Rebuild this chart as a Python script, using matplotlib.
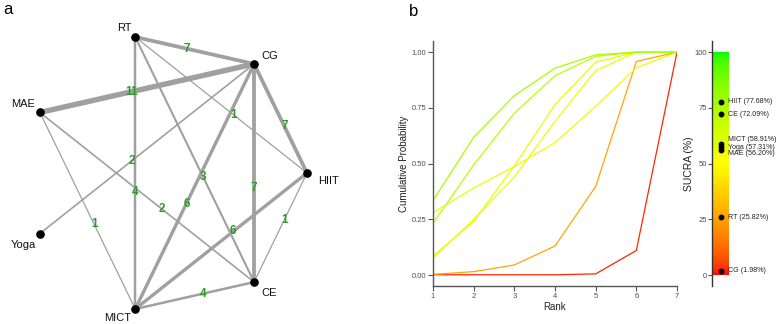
import numpy as np
import matplotlib
matplotlib.use("Agg")
import matplotlib.pyplot as plt
from matplotlib.colors import ListedColormap

plt.rcParams['font.family'] = ['Liberation Sans', 'DejaVu Sans']

# ---------------- data ----------------
nodes = ["HIIT", "CG", "RT", "MAE", "Yoga", "MICT", "CE"]   # order around circle
edges_from = ["CG", "CG", "CG", "RT", "MAE", "MAE", "RT", "CG", "RT", "MICT", "CE", "MICT", "CG", "CG"]
edges_to   = ["RT", "MAE", "Yoga", "MICT", "CE", "MICT", "CE", "MICT", "HIIT", "HIIT", "HIIT", "CE", "CE", "HIIT"]
edges_n    = [7, 11, 2, 4, 2, 1, 3, 6, 1, 6, 1, 4, 7, 7]

ranks = [1, 2, 3, 4, 5, 6, 7]
treatments = ["HIIT", "CE", "MICT", "Yoga", "MAE", "RT", "CG"]
sucra = [77.68, 72.09, 58.91, 57.31, 56.20, 25.82, 1.98]
cum_prob = {
    "HIIT": [0.334, 0.618, 0.805, 0.928, 0.988, 1.000, 1.0],
    "CE":   [0.232, 0.494, 0.726, 0.894, 0.981, 1.000, 1.0],
    "MICT": [0.085, 0.240, 0.490, 0.765, 0.955, 1.000, 1.0],
    "Yoga": [0.280, 0.390, 0.487, 0.594, 0.757, 0.930, 1.0],
    "MAE":  [0.075, 0.250, 0.440, 0.690, 0.917, 1.000, 1.0],
    "RT":   [0.003, 0.015, 0.045, 0.130, 0.397, 0.958, 1.0],
    "CG":   [0.001, 0.001, 0.001, 0.001, 0.005, 0.110, 1.0],
}


# ---------------- Lab colour gradient (red - yellow - green) ----------------
def srgb_to_lab(rgb):
    rgb = np.asarray(rgb, float)
    lin = np.where(rgb <= 0.04045, rgb / 12.92, ((rgb + 0.055) / 1.055) ** 2.4)
    M = np.array([[0.4124, 0.3576, 0.1805], [0.2126, 0.7152, 0.0722], [0.0193, 0.1192, 0.9505]])
    xyz = lin @ M.T / np.array([0.95047, 1.0, 1.08883])
    f = np.where(xyz > 0.008856, np.cbrt(xyz), 7.787 * xyz + 16 / 116)
    return np.stack([116 * f[..., 1] - 16, 500 * (f[..., 0] - f[..., 1]), 200 * (f[..., 1] - f[..., 2])], -1)


def lab_to_srgb(lab):
    lab = np.asarray(lab, float)
    fy = (lab[..., 0] + 16) / 116
    fx = fy + lab[..., 1] / 500
    fz = fy - lab[..., 2] / 200
    f = np.stack([fx, fy, fz], -1)
    xyz = np.where(f ** 3 > 0.008856, f ** 3, (f - 16 / 116) / 7.787) * np.array([0.95047, 1.0, 1.08883])
    Minv = np.linalg.inv(np.array([[0.4124, 0.3576, 0.1805], [0.2126, 0.7152, 0.0722], [0.0193, 0.1192, 0.9505]]))
    lin = np.clip(xyz @ Minv.T, 0, 1)
    return np.clip(np.where(lin <= 0.0031308, 12.92 * lin, 1.055 * lin ** (1 / 2.4) - 0.055), 0, 1)


stops = srgb_to_lab(np.array([[1, 0, 0], [1, 1, 0], [0, 1, 0]]))
tt = np.linspace(0, 1, 256)
seg = np.minimum((tt * 2).astype(int), 1)
fr = tt * 2 - seg
labs = stops[seg] * (1 - fr[:, None]) + stops[seg + 1] * fr[:, None]
cmap = ListedColormap(lab_to_srgb(labs))

# ---------------- figure ----------------
W, H = 777, 324
fig = plt.figure(figsize=(W / 100, H / 100), dpi=100)

# ---- panel a: network ----
axa = fig.add_axes([0, 0, 400 / W, 1])
axa.set_xlim(0, 400)
axa.set_ylim(H, 0)
axa.axis("off")

cx, cy, rx, ry = 166.5, 173.0, 140.5, 139.5
pos = {}
for i, nm in enumerate(nodes):
    ang = 2 * np.pi * i / len(nodes)
    pos[nm] = (cx + rx * np.cos(ang), cy - ry * np.sin(ang))

for a, b, n in zip(edges_from, edges_to, edges_n):
    (x1, y1), (x2, y2) = pos[a], pos[b]
    axa.plot([x1, x2], [y1, y2], color="#A0A0A0", lw=0.6 + 0.3 * n,
             solid_capstyle="butt", zorder=1)
for a, b, n in zip(edges_from, edges_to, edges_n):
    (x1, y1), (x2, y2) = pos[a], pos[b]
    f = 0.57
    axa.text(x1 + f * (x2 - x1), y1 + f * (y2 - y1), str(n), color="#2F9A2A",
             fontsize=8.5, fontweight="bold", ha="center", va="center", zorder=3)

for nm in nodes:
    axa.plot(*pos[nm], "o", color="black", ms=5.2, zorder=4)

lab_off = {"HIIT": (11, 8, "left"), "CG": (7, -8, "left"), "RT": (-11, -9, "center"),
           "MAE": (-17, -8, "center"), "Yoga": (-17, 11, "center"),
           "MICT": (-18, 9, "center"), "CE": (7, 11, "left")}
for nm in nodes:
    dx, dy, ha = lab_off[nm]
    axa.text(pos[nm][0] + dx, pos[nm][1] + dy, nm, fontsize=8, ha=ha, va="center",
             color="#111111")

fig.text(3 / W, 1 - 10 / H, "a", fontsize=12, ha="left", va="center")
fig.text(409 / W, 1 - 11 / H, "b", fontsize=12, ha="left", va="center")

# ---- panel b: cumulative ranking ----
left, right, top, bottom = 433, 677, 41, 285.7
axb = fig.add_axes([left / W, 1 - bottom / H, (right - left) / W, (bottom - top) / H])
for t, s in zip(treatments[::-1], sucra[::-1]):
    axb.plot(ranks, cum_prob[t], color=cmap(s / 100), lw=0.9)
axb.set_xlim(1, 7)
axb.set_ylim(-0.048, 1.05)
axb.set_xticks(ranks)
axb.set_yticks([0, 0.25, 0.5, 0.75, 1.0])
axb.set_yticklabels(["0.00", "0.25", "0.50", "0.75", "1.00"])
for sp in ["top", "right"]:
    axb.spines[sp].set_visible(False)
for sp in ["left", "bottom"]:
    axb.spines[sp].set_color("#555555")
    axb.spines[sp].set_linewidth(1.0)
axb.tick_params(colors="#555555", labelcolor="#4D4D4D", labelsize=5.5, length=3.5, width=0.8, pad=1.5)
axb.set_xlabel("Rank", fontsize=7, color="#222222", labelpad=2)
axb.set_ylabel("Cumulative Probability", fontsize=7, color="#222222", labelpad=2)

# ---- SUCRA bar ----
sl, sr = 711.7, 728.3
axs = fig.add_axes([sl / W, 1 - bottom / H, (sr - sl) / W, (bottom - top) / H])
grad = np.linspace(0, 1, 256).reshape(-1, 1)
axs.imshow(grad, cmap=cmap, origin="lower", extent=[0, 1, 0, 100], aspect="auto")
axs.set_xlim(0, 1)
axs.set_ylim(-4.8, 105)
axs.set_xticks([])
axs.set_yticks([0, 25, 50, 75, 100])
for sp in ["top", "right", "bottom"]:
    axs.spines[sp].set_visible(False)
axs.spines["left"].set_color("#333333")
axs.spines["left"].set_linewidth(1.0)
axs.tick_params(colors="#555555", labelcolor="#4D4D4D", labelsize=5.5, length=3, width=0.8, pad=0.5)
axs.set_ylabel("SUCRA (%)", fontsize=7.5, color="#222222", labelpad=0)

label_y = {"HIIT": 77.68, "CE": 72.09, "MICT": 61.0, "Yoga": 57.4, "MAE": 54.6,
           "RT": 25.82, "CG": 1.98}
for t, s in zip(treatments, sucra):
    axs.plot(0.56, s, "o", color="black", ms=3.2, clip_on=False, zorder=3)
    axs.text(1.0, label_y[t], f"{t} ({s:.2f}%)", fontsize=5.1, ha="left", va="center",
             color="#222222", clip_on=False)

fig.savefig("out.png", dpi=100)
